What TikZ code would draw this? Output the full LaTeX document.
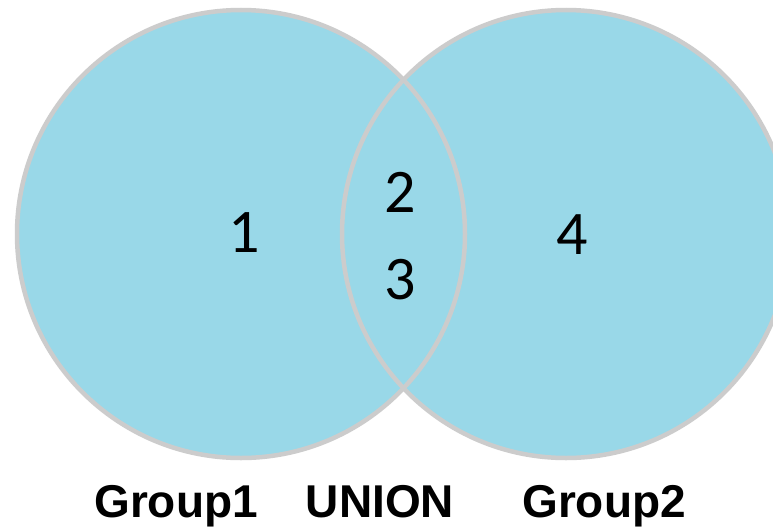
\documentclass[tikz,border=0pt]{standalone}
\usepackage{fontspec}
\setmainfont{Carlito}
\newfontfamily\labelfont{Liberation Sans}
\definecolor{vennfill}{HTML}{99D8E8}
\definecolor{vennline}{HTML}{CCCCCC}
\begin{document}
\begin{tikzpicture}[x=1pt,y=-1pt,
  ring/.style={draw=vennline,line width=4.5pt},
  digit/.style={inner sep=0pt,anchor=center,font=\fontsize{62}{62}\selectfont},
  grouplabel/.style={inner sep=0pt,anchor=base,font=\labelfont\bfseries\fontsize{46}{46}\selectfont}]
\useasboundingbox (0,0) rectangle (773,530);
\clip (0,0) rectangle (773,530);
\fill[white] (0,0) rectangle (773,530);
\coordinate (c1) at (241,234);
\coordinate (c2) at (566,234);
\fill[vennfill] (c1) circle[radius=224pt];
\fill[vennfill] (c2) circle[radius=224pt];
\draw[ring] (c1) circle[radius=224pt];
\draw[ring] (c2) circle[radius=224pt];
\node[digit] (n1) at (244,233) {1};
\node[digit] (n2) at (400,192) {2};
\node[digit] (n3) at (400,280) {3};
\node[digit] (n4) at (572,235) {4};
\node[grouplabel] (g1) at (176,517) {Group1};
\node[grouplabel] (un) at (380,517) {UNION};
\node[grouplabel] (g2) at (604,517) {Group2};
\end{tikzpicture}
\end{document}
